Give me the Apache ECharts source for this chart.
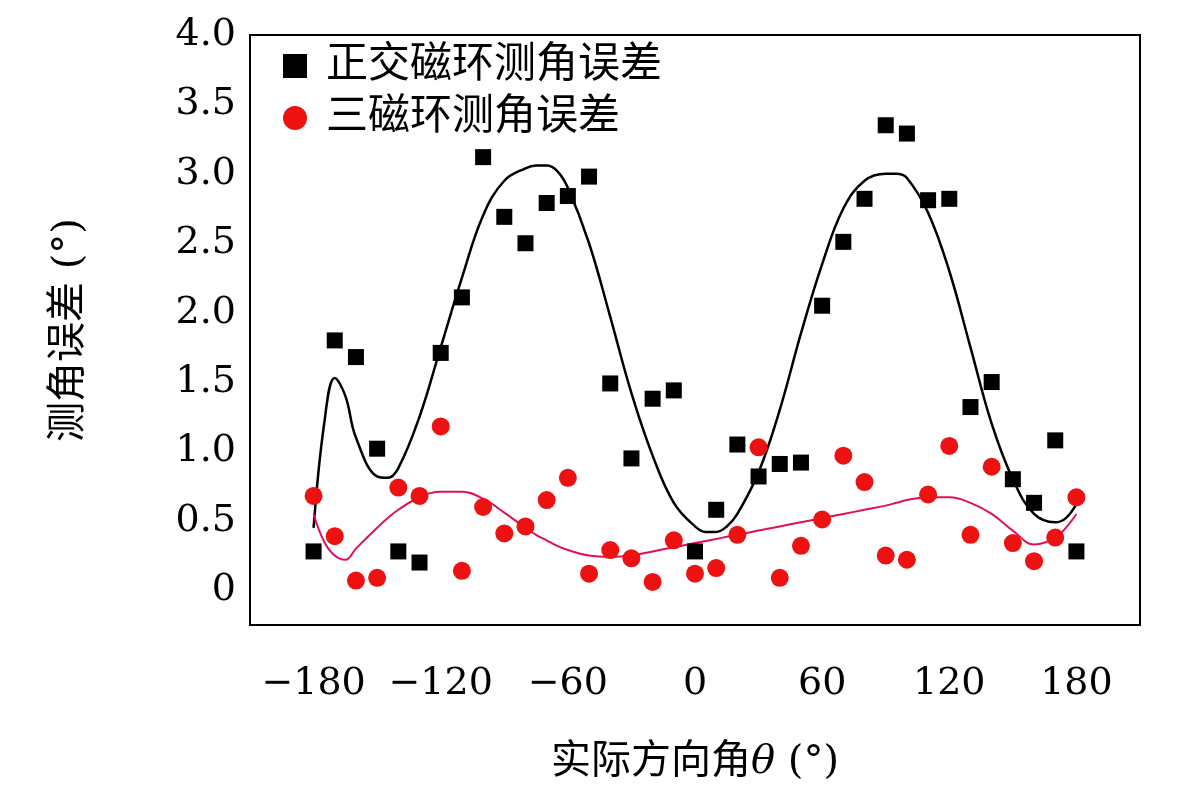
<!DOCTYPE html>
<html><head><meta charset="utf-8">
<script src="https://cdn.jsdelivr.net/npm/echarts@6/dist/echarts.min.js"></script>
<style>html,body{margin:0;background:#fff}#main{width:1181px;height:810px}</style>
</head><body><div id="main"></div>
<script>
var angles = [-180,-170,-160,-150,-140,-130,-120,-110,-100,-90,-80,-70,-60,-50,-40,-30,-20,-10,0,10,20,30,40,50,60,70,80,90,100,110,120,130,140,150,160,170,180];
var orthoErr = [0.28,1.80,1.68,1.02,0.28,0.20,1.71,2.11,3.12,2.69,2.50,2.79,2.84,2.98,1.49,0.95,1.38,1.44,0.28,0.58,1.05,0.82,0.91,0.92,2.05,2.51,2.82,3.35,3.29,2.81,2.82,1.32,1.50,0.80,0.63,1.08,0.28];
var triErr = [0.68,0.39,0.07,0.09,0.74,0.68,1.18,0.14,0.60,0.41,0.46,0.65,0.81,0.12,0.29,0.23,0.06,0.36,0.12,0.16,0.40,1.03,0.09,0.32,0.51,0.97,0.78,0.25,0.22,0.69,1.04,0.40,0.89,0.34,0.21,0.38,0.67];
var fitX = [-180,-175,-170,-165,-160,-150,-145,-140,-130,-120,-110,-100,-90,-80,-75,-70,-65,-60,-50,-40,-30,-20,-10,0,5,10,15,20,30,40,50,60,70,80,90,95,100,110,120,130,140,150,160,170,175,180];
var orthoFit = [0.45,1.2,1.53,1.4,1.1,0.82,0.81,0.88,1.25,1.75,2.25,2.7,2.95,3.04,3.06,3.06,3.02,2.9,2.5,1.97,1.42,0.97,0.63,0.46,0.42,0.42,0.46,0.55,0.85,1.3,1.85,2.35,2.75,2.95,3.0,3.0,2.97,2.72,2.3,1.75,1.2,0.8,0.55,0.49,0.52,0.62];
var triFit = [0.55,0.35,0.25,0.22,0.3,0.45,0.52,0.58,0.67,0.71,0.71,0.66,0.56,0.45,0.40,0.36,0.32,0.29,0.25,0.24,0.25,0.28,0.31,0.34,0.355,0.37,0.385,0.4,0.43,0.46,0.49,0.52,0.55,0.58,0.61,0.63,0.65,0.67,0.67,0.63,0.55,0.43,0.33,0.38,0.45,0.55];

function pairs(xs, ys) { return xs.map(function (x, i) { return [x, ys[i]]; }); }

var font = '"DejaVu Serif","Liberation Serif","Noto Sans CJK SC",serif';
var myChart = echarts.init(document.getElementById('main'));
myChart.setOption({
    animation: false,
    grid: { left: 250, right: 41, top: 35, bottom: 185, show: true, borderColor: '#000', borderWidth: 2 },
    legend: {
        left: 278, top: 40, orient: 'vertical', itemGap: 10, itemWidth: 24, itemHeight: 24,
        textStyle: { fontSize: 42, fontFamily: font, color: '#000', padding: [0, 0, 0, 14] },
        data: ['正交磁环测角误差', '三磁环测角误差']
    },
    xAxis: {
        type: 'value', min: -210, max: 210, interval: 30,
        axisLine: { onZero: false, lineStyle: { color: '#000', width: 2 } }, axisTick: { show: false }, splitLine: { show: false },
        axisLabel: { fontSize: 38, fontFamily: font, color: '#000', margin: 40,
            formatter: function (v) { if (v % 60 !== 0 || Math.abs(v) > 180) return ''; return v < 0 ? '−' + (-v) : '' + v; } },
        name: '{a|实际方向角}{b|θ}{a| (°)}', nameLocation: 'middle', nameGap: 118,
        nameTextStyle: { rich: { a: { fontSize: 40, fontFamily: font, color: '#000' }, b: { fontSize: 40, fontFamily: font, fontStyle: 'italic', color: '#000' } } }
    },
    yAxis: {
        type: 'value', min: -0.25, max: 4.0, interval: 0.25,
        axisLine: { onZero: false, lineStyle: { color: '#000', width: 2 } }, axisTick: { show: false }, splitLine: { show: false },
        axisLabel: { fontSize: 38, fontFamily: font, color: '#000', margin: 14,
            formatter: function (v) { if (v < 0 || Math.abs(v * 2 - Math.round(v * 2)) > 1e-6) return ''; return v === 0 ? '0' : v.toFixed(1); } },
        name: '测角误差 (°)', nameLocation: 'middle', nameGap: 160,
        nameTextStyle: { fontSize: 40, fontFamily: font, color: '#000' }
    },
    series: [
        { name: '正交磁环测角误差', type: 'scatter', symbol: 'rect', symbolSize: 16, itemStyle: { color: '#000', opacity: 1 }, data: pairs(angles, orthoErr), z: 3 },
        { name: '三磁环测角误差', type: 'scatter', symbol: 'circle', symbolSize: 18, itemStyle: { color: '#ee1111', opacity: 1 }, data: pairs(angles, triErr), z: 3 },
        { type: 'line', smooth: 0.4, showSymbol: false, lineStyle: { color: '#000', width: 2.5 }, data: pairs(fitX, orthoFit) },
        { type: 'line', smooth: 0.4, showSymbol: false, lineStyle: { color: '#e0105a', width: 2 }, data: pairs(fitX, triFit) }
    ]
});
</script></body></html>
